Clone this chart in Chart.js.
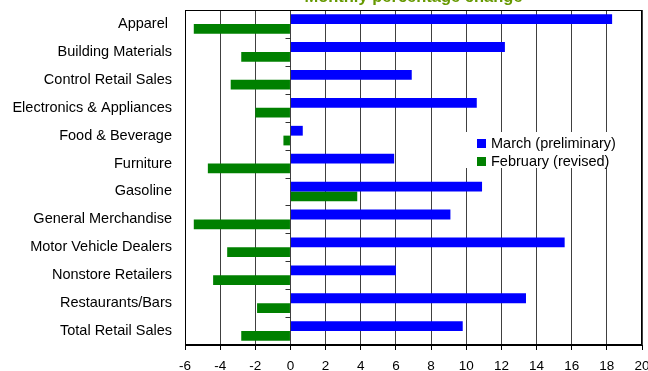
<!DOCTYPE html>
<html>
<head>
<meta charset="utf-8">
<script src="https://cdn.jsdelivr.net/npm/chart.js@4"></script>
<style>
  html, body { margin: 0; padding: 0; background: #fff; overflow: hidden; }
  #wrap { position: relative; width: 648px; height: 371px; overflow: hidden; font-family: "Liberation Sans", Arial, sans-serif; }
  #title { position: absolute; left: 185px; width: 457px; top: -12px; text-align: center; font-size: 16.5px; line-height: 16.5px; font-weight: bold; color: #669900; }
  #legend { position: absolute; left: 462px; top: 132px; width: 160px; height: 36px; background: #fff; font-size: 14.5px; }
  .item { position: absolute; left: 15px; height: 18px; line-height: 18px; white-space: nowrap; }
  .box { display: inline-block; width: 9px; height: 9px; margin-right: 5px; vertical-align: 0px; }
</style>
</head>
<body>
<div id="wrap">
  <canvas id="chart" width="648" height="371"></canvas>
  <div id="title">Monthly percentage change</div>
  <div id="legend">
    <div class="item" style="top: 2px;"><span class="box" style="background:#0000ff"></span>March (preliminary)</div>
    <div class="item" style="top: 20px;"><span class="box" style="background:#008000"></span>February (revised)</div>
  </div>
</div>
<script>
  const categories = [
    "Apparel ",
    "Building Materials",
    "Control Retail Sales",
    "Electronics & Appliances",
    "Food & Beverage",
    "Furniture",
    "Gasoline",
    "General Merchandise",
    "Motor Vehicle Dealers",
    "Nonstore Retailers",
    "Restaurants/Bars",
    "Total Retail Sales",
  ];
  const march = [18.3, 12.2, 6.9, 10.6, 0.7, 5.9, 10.9, 9.1, 15.6, 6.0, 13.4, 9.8];
  const february = [-5.5, -2.8, -3.4, -2.0, -0.4, -4.7, 3.8, -5.5, -3.6, -4.4, -1.9, -2.8];

  const labelFont = { family: "'Liberation Sans', Arial, sans-serif", size: 14.5 };
  const tickFont = { family: "'Liberation Sans', Arial, sans-serif", size: 13.5 };

  // frame round the plot + little ticks on the zero line (excel style)
  const framePlugin = {
    id: "frame",
    afterDatasetsDraw(chart) {
      const { ctx, chartArea: a, scales } = chart;
      ctx.save();
      ctx.strokeStyle = "#000";
      ctx.lineWidth = 1;
      ctx.strokeRect(a.left + 0.5, a.top + 0.5, a.right - a.left - 1, a.bottom - a.top);
      ctx.lineWidth = 2;
      ctx.beginPath();
      ctx.moveTo(a.left, a.bottom);
      ctx.lineTo(a.right, a.bottom);
      ctx.stroke();

      const x0 = Math.round(scales.x.getPixelForValue(0)) + 0.5;
      ctx.lineWidth = 1;
      ctx.strokeStyle = "#333";
      ctx.beginPath();
      for (let i = 1; i < categories.length; i++) {
        const y = Math.round(scales.y.getPixelForValue(i - 0.5)) + 0.5;
        ctx.moveTo(x0 - 5, y);
        ctx.lineTo(x0, y);
      }
      ctx.stroke();
      ctx.restore();
    },
  };

  new Chart(document.getElementById("chart"), {
    type: "bar",
    data: {
      labels: categories,
      datasets: [
        {
          label: "March (preliminary)",
          data: march,
          backgroundColor: "#0000ff",
          borderWidth: 0,
        },
        {
          label: "February (revised)",
          data: february,
          backgroundColor: "#008000",
          borderWidth: 0,
        },
      ],
    },
    options: {
      indexAxis: "y",
      responsive: false,
      animation: false,
      categoryPercentage: 0.7,
      barPercentage: 1.0,
      layout: { padding: { top: 10, right: 6, left: 0, bottom: 0 } },
      plugins: {
        legend: { display: false },
        title: { display: false },
        tooltip: { enabled: false },
      },
      scales: {
        x: {
          min: -6,
          max: 20,
          ticks: { stepSize: 2, color: "#000", font: tickFont, padding: 8, maxRotation: 0 },
          grid: { color: "#404040", lineWidth: 1, drawTicks: true, tickLength: 5, tickColor: "#000" },
          border: { display: false },
          afterFit(scale) {
            scale.height = 26;
            scale.paddingLeft = 0;
            scale.paddingRight = 0;
          },
        },
        y: {
          ticks: { color: "#000", font: labelFont, padding: 13, autoSkip: false },
          grid: { display: false, drawTicks: false, tickLength: 0 },
          border: { display: false },
          afterFit(scale) {
            scale.width = 185;
            scale.paddingTop = 0;
            scale.paddingBottom = 0;
          },
        },
      },
    },
    plugins: [framePlugin],
  });
</script>
</body>
</html>
